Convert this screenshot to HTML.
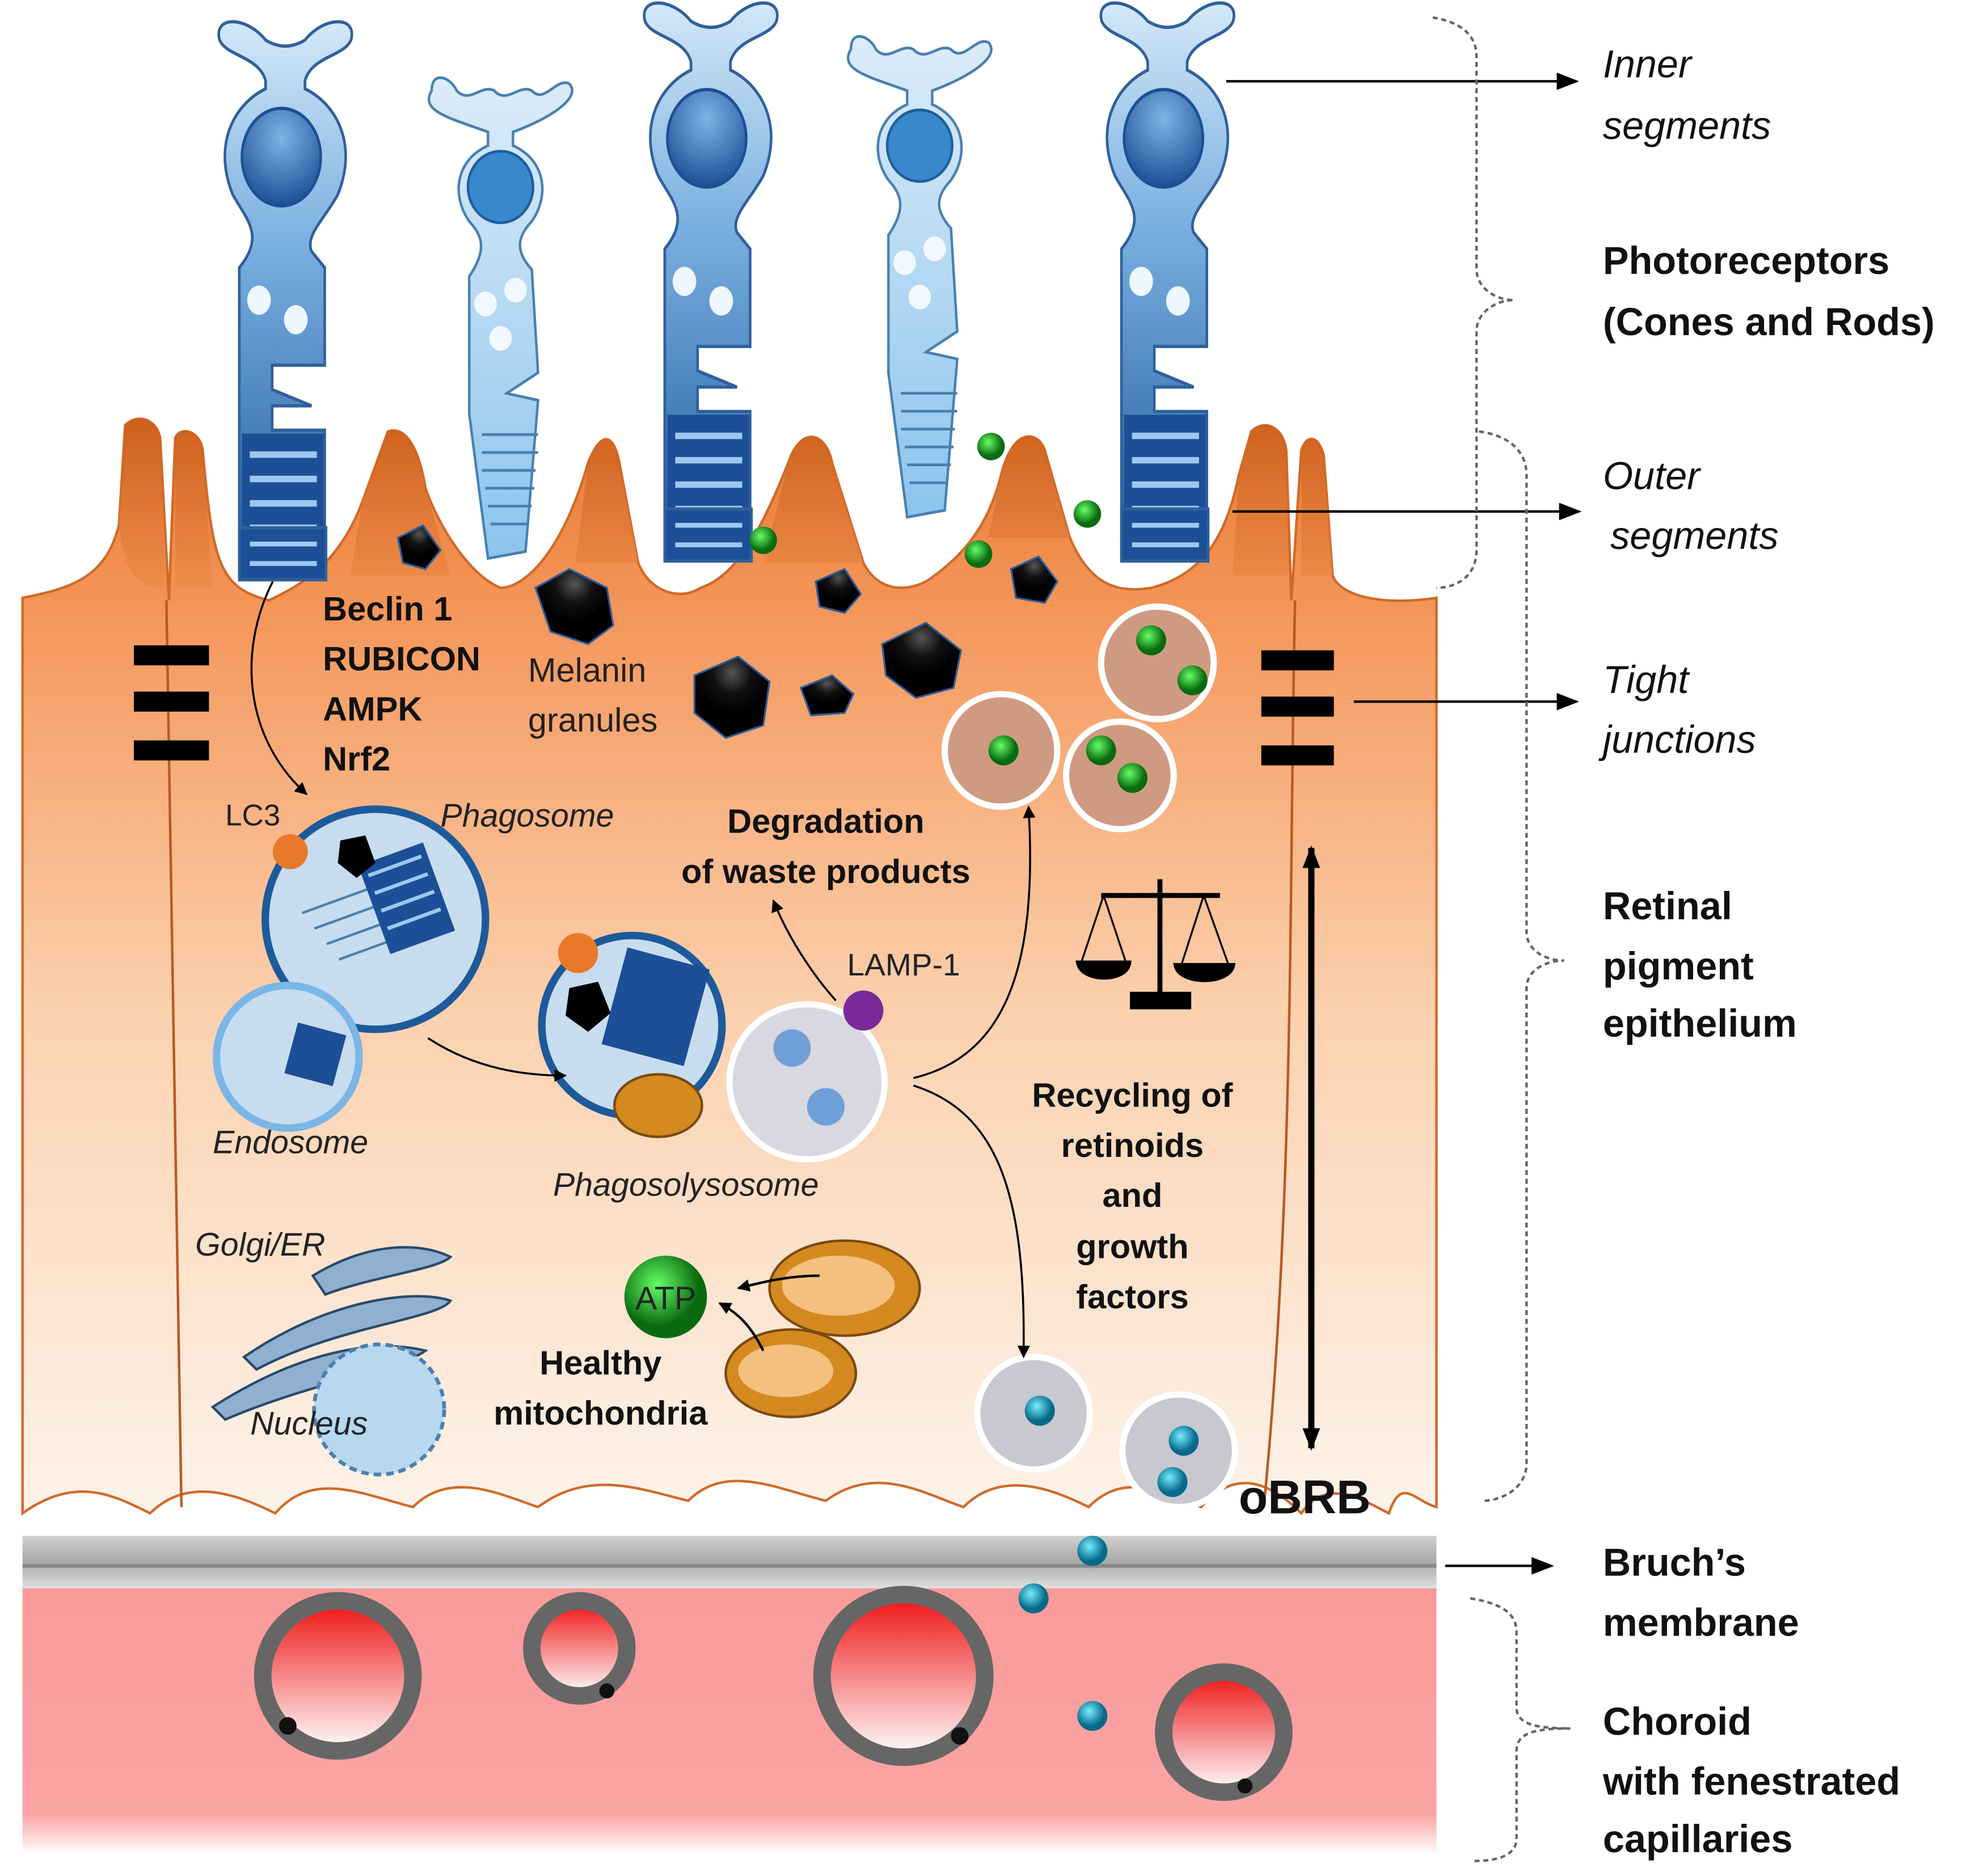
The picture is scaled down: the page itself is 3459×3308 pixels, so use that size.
<!DOCTYPE html>
<html><head><meta charset="utf-8"><style>
html,body{margin:0;padding:0;background:#fff;}
svg{display:block;}
text{font-family:"Liberation Sans","DejaVu Sans",sans-serif;}
.b{font-weight:bold;font-size:31px;fill:#111;}
.i{font-style:italic;font-size:31px;fill:#111;}
.s{font-size:27px;fill:#222;}
.sb{font-weight:bold;font-size:27px;fill:#111;}
.si{font-style:italic;font-size:26px;fill:#222;}
</style></head><body>
<svg width="3459" height="3308" viewBox="0 0 1568 1500" preserveAspectRatio="none" xmlns="http://www.w3.org/2000/svg">
<defs>
<linearGradient id="rpe" x1="0" y1="0" x2="0" y2="1">
<stop offset="0" stop-color="#e87a30"/><stop offset="0.2" stop-color="#f59a60"/><stop offset="0.55" stop-color="#fbd2b0"/><stop offset="1" stop-color="#fdf3ea"/></linearGradient>
<linearGradient id="vil" x1="0" y1="0" x2="0" y2="1"><stop offset="0" stop-color="#c85a18"/><stop offset="1" stop-color="#ee8a48"/></linearGradient>
<linearGradient id="chor" x1="0" y1="0" x2="0" y2="1"><stop offset="0" stop-color="#f99a9a"/><stop offset="0.85" stop-color="#fba4a4"/><stop offset="1" stop-color="#fff"/></linearGradient>
<linearGradient id="bru" x1="0" y1="0" x2="0" y2="1"><stop offset="0" stop-color="#d0d0d0"/><stop offset="0.5" stop-color="#a8a8a8"/><stop offset="1" stop-color="#e0e0e0"/></linearGradient>
<linearGradient id="cone" x1="0" y1="0" x2="0" y2="1"><stop offset="0" stop-color="#d4e8f8"/><stop offset="0.4" stop-color="#7ab0e0"/><stop offset="1" stop-color="#1f5aa0"/></linearGradient>
<linearGradient id="rod" x1="0" y1="0" x2="0" y2="1"><stop offset="0" stop-color="#dcecf8"/><stop offset="1" stop-color="#8cc4ee"/></linearGradient>
<radialGradient id="nuc" cx="0.5" cy="0.3" r="0.7"><stop offset="0" stop-color="#7fb4e6"/><stop offset="1" stop-color="#1d4f96"/></radialGradient>
<linearGradient id="rbc" x1="0" y1="0" x2="0" y2="1"><stop offset="0" stop-color="#ee1111"/><stop offset="1" stop-color="#fff"/></linearGradient>
<radialGradient id="grn" cx="0.4" cy="0.35"><stop offset="0" stop-color="#6f6"/><stop offset="1" stop-color="#0a6a10"/></radialGradient>
<radialGradient id="cy" cx="0.4" cy="0.35"><stop offset="0" stop-color="#7ef"/><stop offset="1" stop-color="#056a8a"/></radialGradient>
<radialGradient id="mel" cx="0.5" cy="0.2"><stop offset="0" stop-color="#555"/><stop offset="0.5" stop-color="#111"/><stop offset="1" stop-color="#000"/></radialGradient>
<marker id="ar" markerWidth="10" markerHeight="10" refX="9" refY="5" orient="auto" markerUnits="userSpaceOnUse"><path d="M0,0 L10,5 L0,10z" fill="#000"/></marker>
<marker id="ar2" markerWidth="18" markerHeight="14" refX="16" refY="7" orient="auto-start-reverse" markerUnits="userSpaceOnUse"><path d="M0,0 L18,7 L0,14z" fill="#000"/></marker>
<g id="conecell">
<path d="M-50,-10 C-55,-25 -30,-25 -15,-10 C-5,-5 5,-5 15,-10 C30,-25 55,-25 50,-10 C45,0 20,0 15,15 L15,20 C40,30 55,55 40,85 C30,100 15,110 20,120 L30,130 L30,190 L-10,190 L-10,205 L20,215 L-10,215 L-10,230 L30,230 L30,320 L-35,320 L-35,130 C-15,110 -30,100 -40,85 C-55,55 -40,30 -15,20 L-15,15 C-20,0 -45,0 -50,-10z" fill="url(#cone)" stroke="#30609a" stroke-width="2"/>
<circle cx="-3" cy="62" r="30" fill="url(#nuc)" stroke="#1d4f96" stroke-width="2"/>
<circle cx="-20" cy="150" r="9" fill="#eef6ff"/><circle cx="8" cy="162" r="9" fill="#eef6ff"/>
<rect x="-33" y="232" width="62" height="86" fill="#1c4f96"/>
<g stroke="#9cc8f0" stroke-width="4"><line x1="-27" y1="245" x2="24" y2="245"/><line x1="-27" y1="260" x2="24" y2="260"/><line x1="-27" y1="275" x2="24" y2="275"/><line x1="-27" y1="290" x2="24" y2="290"/><line x1="-27" y1="305" x2="24" y2="305"/></g>
</g>
<g id="rodcell">
<path d="M-55,-5 C-55,-20 -40,-15 -35,-5 C-25,5 -15,-10 -5,-5 C5,5 15,-10 25,-5 C35,5 45,-15 55,-10 C65,0 40,15 10,25 L10,35 C35,45 40,70 25,90 C15,100 10,110 25,125 L30,200 L5,215 L30,220 L20,330 L-10,335 L-25,230 L-25,130 C-10,110 -15,100 -25,90 C-40,70 -35,45 -10,35 L-10,25 C-40,15 -65,10 -55,-5z" fill="url(#rod)" stroke="#4a80b0" stroke-width="2"/>
<circle cx="0" cy="65" r="26" fill="#3a88cc" stroke="#1d5f9e" stroke-width="2"/>
<circle cx="-12" cy="150" r="9" fill="#f2f8ff"/><circle cx="12" cy="140" r="9" fill="#f2f8ff"/><circle cx="0" cy="175" r="9" fill="#f2f8ff"/>
<g stroke="#4a80b0" stroke-width="2"><line x1="-15" y1="245" x2="30" y2="245"/><line x1="-15" y1="258" x2="30" y2="258"/><line x1="-15" y1="271" x2="28" y2="271"/><line x1="-12" y1="284" x2="27" y2="284"/><line x1="-10" y1="297" x2="25" y2="297"/><line x1="-8" y1="310" x2="22" y2="310"/></g>
</g>
</defs>
<rect width="1568" height="1500" fill="#fff"/>
<rect x="18" y="1268" width="1130" height="215" fill="url(#chor)"/>
<rect x="18" y="1228" width="1130" height="42" fill="url(#bru)"/>
<line x1="18" y1="1252" x2="1148" y2="1252" stroke="#888" stroke-width="3"/>
<!-- photoreceptors (behind RPE) -->
<use href="#conecell" transform="translate(228,45) scale(1.05,1.3)"/>
<use href="#rodcell" transform="translate(400,78) scale(1,1.1)"/>
<use href="#conecell" transform="translate(568,30) scale(1.05,1.3)"/>
<use href="#rodcell" transform="translate(735,45) scale(1,1.1)"/>
<use href="#conecell" transform="translate(933,30) scale(1.05,1.3)"/>
<!-- RPE -->
<path d="M18,478 C60,470 85,460 95,420 L100,340 C110,330 125,335 128,350 L135,480 L140,350 C145,340 160,345 162,360 C170,450 175,470 215,480 C235,470 270,455 290,400 L310,345 C325,340 335,360 340,390 C350,420 375,460 400,470 C420,470 450,440 470,370 C480,345 490,345 495,370 L510,450 C520,475 545,480 560,470 C590,460 610,420 630,370 C640,340 660,345 665,370 L690,450 C700,470 720,475 740,465 C770,445 790,420 800,380 C810,340 830,345 835,360 L855,430 C870,465 890,475 920,470 C960,460 980,430 990,380 L1000,345 C1010,335 1025,340 1028,360 L1032,480 L1040,360 C1045,345 1055,350 1058,365 L1065,460 C1070,475 1100,485 1148,478 L1148,1205 C1130,1200 1120,1180 1110,1210 C1090,1200 1060,1180 1040,1210 C1020,1190 990,1170 960,1205 C930,1195 900,1175 870,1205 C840,1190 800,1175 770,1205 C740,1195 700,1170 660,1200 C620,1190 580,1170 550,1200 C510,1190 470,1175 430,1205 C400,1195 360,1175 330,1205 C290,1195 250,1175 220,1210 C190,1195 150,1180 120,1210 C90,1195 60,1180 18,1210z" fill="url(#rpe)" stroke="#d06a28" stroke-width="2"/>
<path d="M95,420 L100,340 C110,330 125,335 128,350 L132,470 C120,470 100,470 95,420z M140,350 C145,340 160,345 162,360 L170,470 L140,470z M290,400 L310,345 C325,340 335,360 340,390 L360,460 L280,460z M470,370 C480,345 490,345 495,370 L510,450 L460,450z M630,370 C640,340 660,345 665,370 L690,450 L610,450z M800,380 C810,340 830,345 835,360 L855,430 L790,430z M990,380 L1000,345 C1010,335 1025,340 1028,360 L1030,460 L985,460z M1040,360 C1045,345 1055,350 1058,365 L1065,460 L1040,460z" fill="url(#vil)" opacity="0.8"/>
<!-- outer segment tips overlapping RPE -->
<g transform="translate(228,45) scale(1.05,1.3)"><rect x="-35" y="290" width="66" height="32" fill="#1c4f96" stroke="#30609a" stroke-width="2"/><g stroke="#9cc8f0" stroke-width="3"><line x1="-27" y1="300" x2="24" y2="300"/><line x1="-27" y1="312" x2="24" y2="312"/></g></g>
<g transform="translate(568,30) scale(1.05,1.3)"><rect x="-35" y="290" width="66" height="32" fill="#1c4f96" stroke="#30609a" stroke-width="2"/><g stroke="#9cc8f0" stroke-width="3"><line x1="-27" y1="300" x2="24" y2="300"/><line x1="-27" y1="312" x2="24" y2="312"/></g></g>
<g transform="translate(933,30) scale(1.05,1.3)"><rect x="-35" y="290" width="66" height="32" fill="#1c4f96" stroke="#30609a" stroke-width="2"/><g stroke="#9cc8f0" stroke-width="3"><line x1="-27" y1="300" x2="24" y2="300"/><line x1="-27" y1="312" x2="24" y2="312"/></g></g>
<path d="M133,480 C138,700 140,950 145,1205" stroke="#b85a20" stroke-width="2" fill="none"/>
<path d="M1035,480 C1030,700 1035,950 1010,1205" stroke="#b85a20" stroke-width="2" fill="none"/>
<g fill="url(#mel)" stroke="#2a5d9a" stroke-width="1.5">
<path d="M318,430 L338,420 L352,440 L340,455 L322,450z"/>
<path d="M428,470 L455,455 L485,470 L490,500 L470,515 L440,505z"/>
<path d="M555,540 L590,525 L615,545 L610,580 L580,590 L555,570z"/>
<path d="M640,550 L665,540 L682,555 L675,570 L648,572z"/>
<path d="M705,515 L740,498 L768,520 L762,550 L732,558 L708,540z"/>
<path d="M652,465 L675,455 L688,475 L675,490 L655,485z"/>
<path d="M808,455 L830,445 L845,465 L835,482 L812,478z"/>
</g>
<g fill="url(#grn)"><circle cx="792" cy="357" r="11"/><circle cx="610" cy="432" r="11"/><circle cx="782" cy="443" r="11"/><circle cx="869" cy="411" r="11"/></g>
<g stroke="#fff" stroke-width="5" fill="#cf9a82"><circle cx="925" cy="530" r="45"/><circle cx="800" cy="600" r="45"/><circle cx="895" cy="620" r="43"/></g>
<g fill="url(#grn)"><circle cx="920" cy="512" r="12"/><circle cx="953" cy="544" r="12"/><circle cx="802" cy="600" r="12"/><circle cx="880" cy="600" r="12"/><circle cx="905" cy="622" r="12"/></g>
<g fill="#000"><rect x="107" y="516" width="60" height="16"/><rect x="107" y="553" width="60" height="16"/><rect x="107" y="592" width="60" height="16"/>
<rect x="1008" y="520" width="58" height="16"/><rect x="1008" y="557" width="58" height="16"/><rect x="1008" y="596" width="58" height="16"/></g>
<circle cx="300" cy="735" r="88" fill="#c8dcf0" stroke="#1d5a9a" stroke-width="6"/>
<g transform="translate(300,730) rotate(-20)"><rect x="0" y="-40" width="55" height="75" fill="#1c4f96"/><g stroke="#9cc8f0" stroke-width="3"><line x1="5" y1="-30" x2="50" y2="-30"/><line x1="5" y1="-15" x2="50" y2="-15"/><line x1="5" y1="0" x2="50" y2="0"/><line x1="5" y1="15" x2="50" y2="15"/></g>
<g stroke="#4a80b0" stroke-width="2"><line x1="-55" y1="-20" x2="0" y2="-20"/><line x1="-50" y1="-5" x2="0" y2="-5"/><line x1="-45" y1="10" x2="0" y2="10"/><line x1="-40" y1="25" x2="0" y2="25"/></g></g>
<path d="M272,672 L292,668 L300,690 L285,702 L270,690z" fill="#000"/>
<circle cx="232" cy="681" r="14" fill="#e8782a"/>
<circle cx="230" cy="845" r="57" fill="#c8dcf0" stroke="#7ab6e6" stroke-width="6"/>
<rect x="232" y="822" width="40" height="42" fill="#1c4f96" transform="rotate(15 252 843)"/>
<circle cx="505" cy="820" r="72" fill="#c8dcf0" stroke="#1d5a9a" stroke-width="6"/>
<circle cx="645" cy="865" r="62" fill="#d8d8e0" stroke="#fff" stroke-width="5"/>
<rect x="490" y="765" width="68" height="80" fill="#1c4f96" transform="rotate(15 524 805)"/>
<path d="M455,790 L478,785 L488,810 L470,825 L452,812z" fill="#000"/>
<ellipse cx="526" cy="884" rx="35" ry="25" fill="#d48a20" stroke="#7a4a10" stroke-width="2"/>
<circle cx="462" cy="762" r="16" fill="#e8782a"/>
<circle cx="690" cy="808" r="16" fill="#7a2a9a"/>
<circle cx="633" cy="838" r="15" fill="#6fa0d8"/><circle cx="660" cy="885" r="15" fill="#6fa0d8"/>
<g fill="#8fb0d0" stroke="#2a4a6a" stroke-width="2"><path d="M250,1020 C300,990 340,995 360,1005 C350,1015 300,1020 260,1035z"/><path d="M195,1085 C260,1040 330,1030 360,1040 C350,1055 270,1060 205,1095z"/><path d="M170,1125 C240,1080 300,1070 340,1080 C320,1095 250,1105 180,1135z"/></g>
<circle cx="303" cy="1127" r="52" fill="#b8d8f0" stroke="#4a80b0" stroke-width="3" stroke-dasharray="6,4"/>
<ellipse cx="675" cy="1030" rx="60" ry="38" fill="#d48a20" stroke="#7a4a10" stroke-width="2"/>
<ellipse cx="632" cy="1098" rx="52" ry="35" fill="#d48a20" stroke="#7a4a10" stroke-width="2"/>
<ellipse cx="670" cy="1028" rx="45" ry="24" fill="#f4c080"/><ellipse cx="628" cy="1096" rx="38" ry="21" fill="#f4c080"/>
<circle cx="532" cy="1037" r="33" fill="url(#grn)"/>
<text x="532" y="1047" text-anchor="middle" class="s" style="font-size:26px">ATP</text>
<g stroke="#000" stroke-width="2" fill="none"><path d="M655,1020 C630,1020 610,1025 590,1030" marker-end="url(#ar)"/><path d="M610,1080 C600,1060 590,1050 575,1042" marker-end="url(#ar)"/></g>
<g stroke="#fff" stroke-width="5" fill="#c8c8d0"><circle cx="826" cy="1130" r="45"/><circle cx="942" cy="1160" r="45"/></g>
<g fill="url(#cy)"><circle cx="831" cy="1128" r="12"/><circle cx="946" cy="1152" r="12"/><circle cx="937" cy="1185" r="12"/><circle cx="873" cy="1240" r="12"/><circle cx="826" cy="1278" r="12"/><circle cx="873" cy="1372" r="12"/></g>
<g stroke="#666" stroke-width="14" fill="url(#rbc)"><circle cx="270" cy="1340" r="60"/><circle cx="463" cy="1318" r="38"/><circle cx="722" cy="1340" r="65"/><circle cx="978" cy="1385" r="48"/></g>
<g fill="#111"><circle cx="230" cy="1380" r="7"/><circle cx="485" cy="1352" r="6"/><circle cx="767" cy="1388" r="7"/><circle cx="995" cy="1428" r="6"/></g>
<g stroke="#000" stroke-width="4" fill="#000"><line x1="927" y1="703" x2="927" y2="800"/><line x1="880" y1="716" x2="975" y2="716"/><rect x="905" y="795" width="45" height="10"/><path d="M862,770 L902,770 C900,785 865,785 862,770z"/><path d="M940,772 L985,772 C982,787 943,787 940,772z"/><path d="M882,716 L864,770 M882,716 L900,770 M962,716 L944,772 M962,716 L982,772" stroke-width="1.5" fill="none"/></g>
<g stroke="#000" stroke-width="1.6" fill="none">
<path d="M218,465 C190,520 195,590 245,635" marker-end="url(#ar)"/>
<path d="M342,830 C380,855 420,860 452,860" marker-end="url(#ar)"/>
<path d="M668,800 C650,780 630,750 618,720" marker-end="url(#ar)"/>
<path d="M730,862 C800,845 830,780 822,645" marker-end="url(#ar)"/>
<path d="M730,868 C800,890 820,960 818,1085" marker-end="url(#ar)"/>
</g>
<line x1="1048" y1="678" x2="1048" y2="1158" stroke="#000" stroke-width="5" marker-end="url(#ar2)" marker-start="url(#ar2)"/>
<g stroke="#000" stroke-width="2"><line x1="980" y1="65" x2="1260" y2="65" marker-end="url(#ar2)"/><line x1="985" y1="409" x2="1262" y2="409" marker-end="url(#ar2)"/><line x1="1082" y1="561" x2="1260" y2="561" marker-end="url(#ar2)"/><line x1="1155" y1="1252" x2="1240" y2="1252" marker-end="url(#ar2)"/></g>
<g stroke="#666" stroke-width="2" fill="none" stroke-dasharray="4,3">
<path d="M1145,14 C1170,18 1180,30 1180,45 L1180,215 C1180,230 1195,240 1210,240 C1195,240 1180,250 1180,265 L1180,440 C1180,460 1165,470 1148,470"/>
<path d="M1182,345 C1205,348 1220,360 1220,380 L1220,745 C1220,760 1235,768 1250,768 C1235,768 1220,776 1220,790 L1220,1170 C1220,1190 1200,1200 1185,1200"/>
<path d="M1175,1278 C1200,1282 1212,1290 1212,1305 L1212,1365 C1212,1378 1225,1382 1255,1382 C1225,1382 1212,1386 1212,1400 L1212,1470 C1212,1482 1200,1488 1178,1488"/>
</g>
<text class="i" x="1281" y="62">Inner</text>
<text class="i" x="1281" y="111">segments</text>
<text class="b" x="1281" y="219">Photoreceptors</text>
<text class="b" x="1281" y="268">(Cones and Rods)</text>
<text class="i" x="1281" y="391">Outer</text>
<text class="i" x="1287" y="439">segments</text>
<text class="i" x="1281" y="554">Tight</text>
<text class="i" x="1281" y="602">junctions</text>
<text class="b" x="1281" y="735">Retinal</text>
<text class="b" x="1281" y="783">pigment</text>
<text class="b" x="1281" y="829">epithelium</text>
<text class="b" x="1281" y="1260">Bruch’s</text>
<text class="b" x="1281" y="1308">membrane</text>
<text class="b" x="1281" y="1387">Choroid</text>
<text class="b" x="1281" y="1435">with fenestrated</text>
<text class="b" x="1281" y="1481">capillaries</text>
<text class="b" x="990" y="1210" style="font-size:38px">oBRB</text>
<text class="sb" x="258" y="496">Beclin 1</text>
<text class="sb" x="258" y="536">RUBICON</text>
<text class="sb" x="258" y="576">AMPK</text>
<text class="sb" x="258" y="616">Nrf2</text>
<text class="s" x="422" y="545">Melanin</text>
<text class="s" x="422" y="585">granules</text>
<text class="s" x="180" y="660" style="font-size:24px">LC3</text>
<text class="si" x="352" y="661">Phagosome</text>
<text class="sb" x="660" y="666" text-anchor="middle">Degradation</text>
<text class="sb" x="660" y="706" text-anchor="middle">of waste products</text>
<text class="s" x="677" y="780" style="font-size:25px">LAMP-1</text>
<text class="si" x="170" y="922">Endosome</text>
<text class="si" x="442" y="956">Phagosolysosome</text>
<text class="sb" x="905" y="885" text-anchor="middle">Recycling of</text>
<text class="sb" x="905" y="925" text-anchor="middle">retinoids</text>
<text class="sb" x="905" y="965" text-anchor="middle">and</text>
<text class="sb" x="905" y="1006" text-anchor="middle">growth</text>
<text class="sb" x="905" y="1046" text-anchor="middle">factors</text>
<text class="si" x="156" y="1004">Golgi/ER</text>
<text class="si" x="200" y="1147">Nucleus</text>
<text class="sb" x="480" y="1099" text-anchor="middle">Healthy</text>
<text class="sb" x="480" y="1139" text-anchor="middle">mitochondria</text>
</svg>
</body></html>
